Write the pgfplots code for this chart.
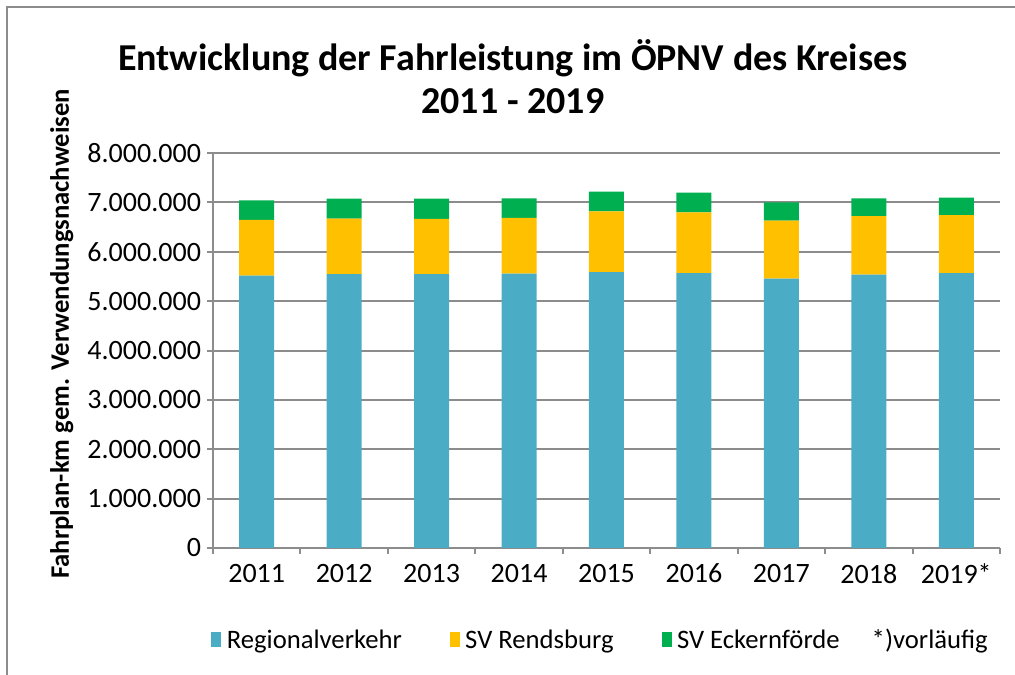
\documentclass[border=0pt]{standalone}
\usepackage{fontspec}
\setmainfont{Carlito}
\usepackage{pgfplots}
\pgfplotsset{compat=1.18}

\definecolor{regio}{HTML}{4BACC6}
\definecolor{rends}{HTML}{FFC000}
\definecolor{ecker}{HTML}{00B050}
\definecolor{gridgray}{HTML}{8C8C8C}

% 1px of the reference = 0.75pt
\begin{document}
\begin{tikzpicture}
\path[use as bounding box] (0,0) rectangle (761.25pt,506.25pt);
\draw[gridgray, line width=1.5pt] (5.25pt,-2pt) -- (5.25pt,501pt) -- (765pt,501pt);

\begin{axis}[
    at={(159.75pt,95.25pt)}, anchor=south west,
    scale only axis,
    width=590.25pt, height=296.25pt,
    ybar stacked, bar width=26.25pt,
    xmin=-0.5, xmax=8.5,
    ymin=0, ymax=8000000,
    xtick={0,...,8},
    xticklabels={2011,2012,2013,2014,2015,2016,2017,2018,2019*},
    minor xtick={-0.5,0.5,...,8.5},
    ytick={0,1000000,...,8000000},
    scaled y ticks=false,
    /pgf/number format/.cd, fixed, 1000 sep={.}, assume math mode=true,
    /pgfplots/.cd,
    axis x line=bottom, axis y line=left,
    axis line style={gridgray, line width=1.5pt, -},
    tick style={gridgray, line width=1.5pt},
    major x tick style={draw=none},
    tick align=outside,
    major tick length=4.5pt, minor tick length=4.5pt,
    ymajorgrids, major grid style={gridgray, line width=1.5pt},
    ticklabel style={font=\fontsize{21}{25}\selectfont},
    xticklabel style={yshift=-4pt},
    yticklabel style={xshift=-1pt},
    ylabel={\textbf{Fahrplan-km gem. Verwendungsnachweisen}},
    every axis y label/.style={at={(axis description cs:-0.192,0.542)}, rotate=90, anchor=center, font=\fontsize{20}{24}\selectfont},
    title={Entwicklung der Fahrleistung im ÖPNV des Kreises\\2011 - 2019},
    every axis title/.style={at={(axis description cs:0.381,1.194)}, anchor=center, align=center, font=\fontsize{28.5}{32.25}\selectfont\bfseries},
    legend columns=4,
    legend style={at={(axis description cs:0.493,-0.233)}, anchor=center, draw=none, fill=none,
        font=\fontsize{20}{24}\selectfont,
        /tikz/every odd column/.append style={column sep=2pt},
        /tikz/every even column/.append style={column sep=34pt}},
    legend image code/.code={\fill[#1, draw=none] (0pt,-5pt) rectangle (7.5pt,6pt);},
]
\addplot+[draw=none, fill=regio] coordinates {(0,5516000) (1,5545000) (2,5545000) (3,5557000) (4,5585000) (5,5565000) (6,5455000) (7,5537000) (8,5565000)};
\addlegendentry{Regionalverkehr}
\addplot+[draw=none, fill=rends] coordinates {(0,1131000) (1,1128000) (2,1122000) (3,1130000) (4,1231000) (5,1231000) (6,1178000) (7,1184000) (8,1176000)};
\addlegendentry{SV Rendsburg}
\addplot+[draw=none, fill=ecker] coordinates {(0,393000) (1,402000) (2,408000) (3,395000) (4,402000) (5,401000) (6,367000) (7,361000) (8,354000)};
\addlegendentry{SV Eckernförde}
\addlegendimage{empty legend}
\addlegendentry{\hspace{-16pt}*)vorläufig}
\end{axis}
\end{tikzpicture}
\end{document}
